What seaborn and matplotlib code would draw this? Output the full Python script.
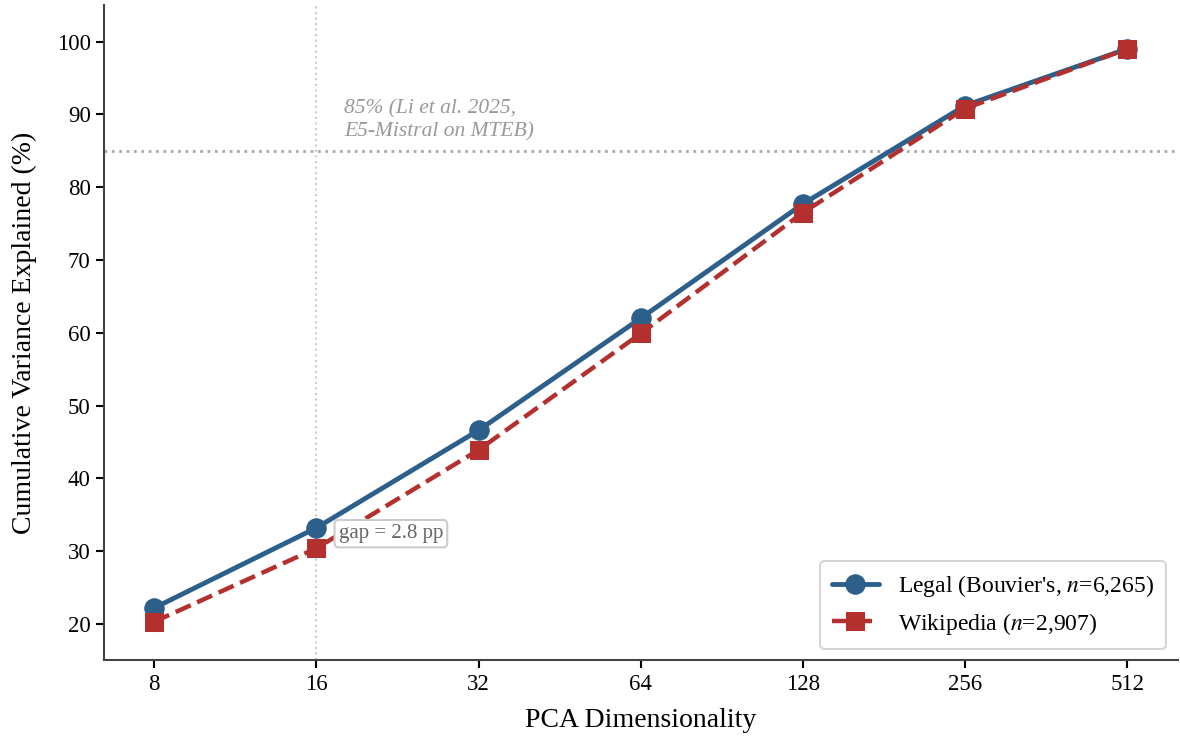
import numpy as np
import pandas as pd
import seaborn as sns
import matplotlib.pyplot as plt
from matplotlib.ticker import FixedLocator, NullLocator

dims = [8, 16, 32, 64, 128, 256, 512]
legal = [22.2, 33.2, 46.6, 62.0, 77.7, 91.2, 99.0]
wiki = [20.3, 30.4, 43.9, 59.9, 76.5, 90.8, 99.0]
legal_label = "Legal (Bouvier's, $n$=6,265)"
wiki_label = "Wikipedia ($n$=2,907)"

sns.set_style("ticks")
plt.rcParams['font.family'] = ['Liberation Serif', 'DejaVu Serif']
plt.rcParams['mathtext.fontset'] = 'stix'
plt.rcParams['text.color'] = 'black'
plt.rcParams['axes.labelcolor'] = 'black'
plt.rcParams['xtick.color'] = 'black'
plt.rcParams['ytick.color'] = 'black'

blue = '#2d5f8b'
red = '#b3302f'

fig, ax = plt.subplots(figsize=(11.8, 7.37), dpi=100)
fig.subplots_adjust(left=0.088, right=0.998, bottom=0.104, top=0.993)

df_l = pd.DataFrame({'dim': dims, 'var': legal})
df_w = pd.DataFrame({'dim': dims, 'var': wiki})

ax.axvline(16, color='#cccccc', linestyle=':', linewidth=1.5, zorder=0)
ax.axhline(85, color='#aaaaaa', linestyle=':', linewidth=2, zorder=0)

sns.lineplot(data=df_l, x='dim', y='var', ax=ax, color=blue, marker='o',
             markersize=14, linewidth=3.5, markeredgecolor=blue, label=legal_label)
sns.lineplot(data=df_w, x='dim', y='var', ax=ax, color=red, marker='s',
             markersize=12.5, linewidth=3.2, linestyle='--', markeredgecolor=red,
             label=wiki_label)

ax.set_xscale('log', base=2)
ax.set_xlim(6.45, 635)
ax.xaxis.set_major_locator(FixedLocator(dims))
ax.xaxis.set_minor_locator(NullLocator())
ax.set_xticklabels([str(d) for d in dims])
ax.set_ylim(15, 105)
ax.set_yticks(range(20, 101, 10))

ax.tick_params(labelsize=16.5, length=6, width=1.5)
ax.set_xlabel('PCA Dimensionality', fontsize=20, labelpad=10)
ax.set_ylabel('Cumulative Variance Explained (%)', fontsize=20, labelpad=14)

sns.despine(ax=ax)
for s in ['left', 'bottom']:
    ax.spines[s].set_color('#444444')
    ax.spines[s].set_linewidth(1.5)

ax.text(18.0, 86.3, '85% (Li et al. 2025,\nE5-Mistral on MTEB)', fontsize=15.5,
        style='italic', color='#999999', ha='left', va='bottom', linespacing=1.25)

ax.annotate('gap = 2.8 pp', xy=(17.6, 32.4), fontsize=15, color='#666666',
            ha='left', va='center',
            bbox=dict(boxstyle='round,pad=0.2', fc='white', ec='#cccccc', lw=1.5))

leg = ax.legend(loc='lower right', fontsize=17, frameon=True, fancybox=True,
                handlelength=2.0, borderpad=0.5, labelspacing=0.5)
leg.get_frame().set_edgecolor('#cccccc')
leg.get_frame().set_linewidth(1.5)

fig.savefig('out.png', dpi=100)
